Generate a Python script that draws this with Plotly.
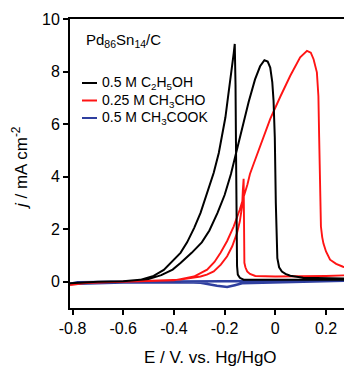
import plotly.graph_objects as go

# Cyclic voltammograms of Pd86Sn14/C in alkaline media (E vs. Hg/HgO, j in mA cm-2)

# 0.5 M C2H5OH - forward (anodic) scan
eth_fwd_E = [-0.81, -0.75, -0.7, -0.6, -0.55, -0.5, -0.45, -0.405, -0.374, -0.33, -0.29,
             -0.26, -0.228, -0.2, -0.175, -0.157, -0.145, -0.125, -0.105, -0.08, -0.06,
             -0.043, -0.03, -0.02, -0.012, -0.007, -0.002, 0.002, 0.005, 0.008, 0.015,
             0.026, 0.04, 0.059, 0.11, 0.2, 0.3]
eth_fwd_j = [-0.06, -0.02, 0.0, 0.02, 0.05, 0.1, 0.25, 0.46, 0.71, 1.1, 1.5,
             1.95, 2.62, 3.3, 4.1, 4.8, 5.3, 6.1, 6.85, 7.7, 8.2,
             8.43, 8.38, 8.15, 7.6, 6.9, 5.5, 3.0, 1.6, 0.9, 0.55,
             0.39, 0.3, 0.23, 0.15, 0.12, 0.12]
# 0.5 M C2H5OH - reverse (cathodic) scan
eth_rev_E = [0.3, 0.1, 0.0, -0.1, -0.125, -0.14, -0.148, -0.151, -0.153, -0.155, -0.157,
             -0.16, -0.164, -0.17, -0.177, -0.187, -0.197, -0.21, -0.223, -0.243, -0.27,
             -0.295, -0.32, -0.348, -0.374, -0.405, -0.44, -0.48, -0.53, -0.6, -0.7, -0.81]
eth_rev_j = [0.08, 0.07, 0.07, 0.07, 0.08, 0.15, 0.27, 0.6, 2.0, 5.0, 7.5,
             9.05, 8.7, 8.2, 7.77, 7.0, 6.25, 5.5, 4.9, 4.15, 3.35,
             2.62, 2.05, 1.5, 1.1, 0.78, 0.45, 0.22, 0.08, 0.02, 0.0, -0.06]

# 0.25 M CH3CHO - forward scan
ald_fwd_E = [-0.81, -0.75, -0.6, -0.45, -0.4, -0.374, -0.321, -0.269, -0.24, -0.216, -0.19,
             -0.164, -0.14, -0.11, -0.1, -0.085, -0.059, -0.02, 0.02, 0.059, 0.098, 0.125,
             0.14, 0.151, 0.164, 0.17, 0.173, 0.175, 0.177, 0.18, 0.185, 0.19, 0.2, 0.216,
             0.24, 0.267, 0.3]
ald_fwd_j = [-0.13, -0.04, 0.0, 0.02, 0.05, 0.1, 0.2, 0.46, 0.75, 1.1, 1.55,
             2.11, 2.75, 3.7, 4.1, 4.5, 5.2, 6.2, 7.05, 7.84, 8.54, 8.79,
             8.72, 8.47, 7.97, 7.07, 5.5, 4.0, 2.8, 2.1, 1.7, 1.45, 1.15, 0.84,
             0.68, 0.57, 0.5]
# 0.25 M CH3CHO - reverse scan
ald_rev_E = [0.3, 0.2, 0.1, 0.0, -0.079, -0.1, -0.111, -0.118, -0.122, -0.123, -0.124,
             -0.125, -0.128, -0.131, -0.14, -0.151, -0.17, -0.19, -0.215, -0.243, -0.27,
             -0.295, -0.374, -0.5, -0.6, -0.75, -0.81]
ald_rev_j = [0.25, 0.22, 0.2, 0.2, 0.22, 0.3, 0.39, 0.55, 0.72, 2.0, 3.3,
             3.92, 3.5, 2.87, 2.3, 1.86, 1.35, 0.97, 0.65, 0.39, 0.27,
             0.2, 0.08, 0.03, 0.0, -0.05, -0.13]

# 0.5 M CH3COOK - forward and reverse scans
ace_fwd_E = [-0.81, -0.78, -0.6, -0.4, -0.2, 0.0, 0.3]
ace_fwd_j = [-0.08, -0.02, 0.0, 0.0, 0.02, 0.03, 0.1]
ace_rev_E = [0.3, 0.1, -0.05, -0.131, -0.16, -0.19, -0.23, -0.27, -0.295, -0.35, -0.6, -0.81]
ace_rev_j = [0.05, 0.0, -0.03, -0.06, -0.13, -0.2, -0.15, -0.07, -0.04, -0.02, -0.03, -0.08]

series = [
    ("0.5 M C<sub>2</sub>H<sub>5</sub>OH", "#000000", 2.0, eth_fwd_E + eth_rev_E, eth_fwd_j + eth_rev_j),
    ("0.25 M CH<sub>3</sub>CHO", "#ff1414", 1.9, ald_fwd_E + ald_rev_E, ald_fwd_j + ald_rev_j),
    ("0.5 M CH<sub>3</sub>COOK", "#2f3f9f", 2.6, ace_fwd_E + ace_rev_E, ace_fwd_j + ace_rev_j),
]

x_ticks = [-0.8, -0.6, -0.4, -0.2, 0.0, 0.2]
x_ticktext = ["-0.8", "-0.6", "-0.4", "-0.2", "0", "0.2"]
y_ticks = [0, 2, 4, 6, 8, 10]

FONT = "Liberation Sans, Arial, sans-serif"
W, H = 344, 370
ML, MR, MT, MB = 70, 0, 19, 62
PW, PH = W - ML - MR, H - MT - MB


def px_x(px):
    return (px - ML) / PW


def px_y(py):
    return (H - MB - py) / PH


fig = go.Figure()

# draw acetate first so the oxidation curves sit on top of it
for name, color, width, E, j in [series[2], series[1], series[0]]:
    fig.add_trace(go.Scatter(
        x=E, y=j, mode="lines", name=name,
        line=dict(color=color, width=width),
        showlegend=False, hoverinfo="skip",
    ))

shapes = []
annotations = []

# legend drawn as short line samples with labels
legend_rows = [83, 100.5, 118]
for (name, color, _, _, _), py in zip(series, legend_rows):
    shapes.append(dict(type="line", xref="paper", yref="paper",
                       x0=px_x(82), x1=px_x(97), y0=px_y(py), y1=px_y(py),
                       line=dict(color=color, width=2)))
    annotations.append(dict(xref="paper", yref="paper", x=px_x(100), y=px_y(py),
                            xanchor="left", yanchor="middle", showarrow=False,
                            text=name, font=dict(family=FONT, size=14, color="#000")))

# catalyst label
annotations.append(dict(xref="paper", yref="paper", x=px_x(84), y=px_y(40),
                        xanchor="left", yanchor="middle", showarrow=False,
                        text="Pd<sub>86</sub>Sn<sub>14</sub>/C",
                        font=dict(family=FONT, size=15, color="#000")))

# axis titles
annotations.append(dict(xref="paper", yref="paper", x=px_x(210), y=px_y(357),
                        xanchor="center", yanchor="middle", showarrow=False,
                        text="E / V. vs. Hg/HgO",
                        font=dict(family=FONT, size=17, color="#000")))
annotations.append(dict(xref="paper", yref="paper", x=px_x(20), y=px_y(168),
                        xanchor="center", yanchor="middle", showarrow=False,
                        textangle=-90, text="<i>j</i> / mA cm<sup>-2</sup>",
                        font=dict(family=FONT, size=17, color="#000")))

fig.update_layout(
    width=W, height=H,
    margin=dict(l=ML, r=MR, t=MT, b=MB, pad=0),
    paper_bgcolor="white", plot_bgcolor="white",
    font=dict(family=FONT, size=16, color="#000"),
    shapes=shapes, annotations=annotations,
    showlegend=False,
)
fig.update_xaxes(
    range=[-0.81, 0.271], tickvals=x_ticks, ticktext=x_ticktext,
    showgrid=False, zeroline=False,
    showline=True, linecolor="#000", linewidth=2, mirror=True,
    ticks="outside", ticklen=5, tickwidth=1.5, tickcolor="#000",
    tickfont=dict(family=FONT, size=16, color="#000"),
)
fig.update_yaxes(
    range=[-1, 10], tickvals=y_ticks,
    showgrid=False, zeroline=False,
    showline=True, linecolor="#000", linewidth=2,
    ticks="outside", ticklen=5, tickwidth=1.5, tickcolor="#000",
    tickfont=dict(family=FONT, size=16, color="#000"),
)

fig.write_html("out.html")
